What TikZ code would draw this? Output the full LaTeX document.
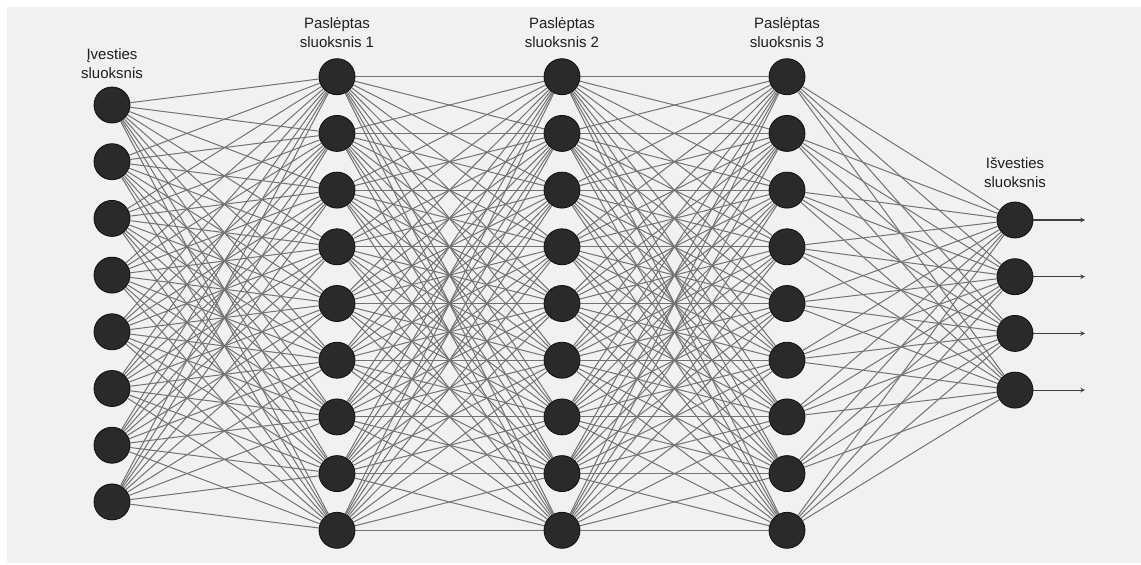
\documentclass[tikz,border=0pt]{standalone}
\usepackage{fontspec}
\setmainfont{Liberation Sans}
\definecolor{panel}{HTML}{F1F1F1}
\definecolor{wire}{HTML}{727272}
\definecolor{cell}{HTML}{2A2A2A}
\begin{document}
\begin{tikzpicture}[x=1pt, y=-1pt]
        \tikzstyle{neuron} = [draw=black!95, circle, minimum size=36pt, inner sep=0pt, fill=cell, line width=0.8pt]
        \tikzstyle{weight} = [draw=wire, line width=1pt]
        \tikzstyle{outarrow} = [-{stealth}, draw=black!75, line width=1.1pt]
        \tikzstyle{layer} = [align=center, font=\fontsize{15}{19}\selectfont, text=black!88]
        \useasboundingbox (0,0) rectangle (1141,565);
        \fill[panel] (7,7) rectangle (1141,563);
        % layers
        \foreach \i in {1,...,8}
            \node[neuron] (I\i) at (112, {105+56.7*(\i-1)}) {};
        \foreach \l/\x in {1/337, 2/562, 3/787}
            \foreach \i in {1,...,9}
                \node[neuron] (H\l-\i) at (\x, {76.7+56.7*(\i-1)}) {};
        \foreach \i in {1,...,4}
            \node[neuron] (O\i) at (1015, {220+56.7*(\i-1)}) {};
        % labels
        \node[layer] (LI) at (112, 64) {Įvesties\\sluoksnis};
        \foreach \l/\x in {1/337, 2/562, 3/787}
            \node[layer] (LH\l) at (\x, 33) {Paslėptas\\sluoksnis \l};
        \node[layer] (LO) at (1015, 173) {Išvesties\\sluoksnis};
        % weights
        \foreach \i in {1,...,8}
            \foreach \j in {1,...,9}
                \draw[weight] (I\i) -- (H1-\j);
        \foreach \i in {1,...,9}
            \foreach \j in {1,...,9} {
                \draw[weight] (H1-\i) -- (H2-\j);
                \draw[weight] (H2-\i) -- (H3-\j);
            }
        \foreach \i in {1,...,9}
            \foreach \j in {1,...,4}
                \draw[weight] (H3-\i) -- (O\j);
        % outputs
        \foreach \i in {1,...,4} {
            \coordinate (Y\i) at (1085, {220+56.7*(\i-1)});
            \draw[outarrow] (O\i) -- (Y\i);
        }
    \end{tikzpicture}
\end{document}
